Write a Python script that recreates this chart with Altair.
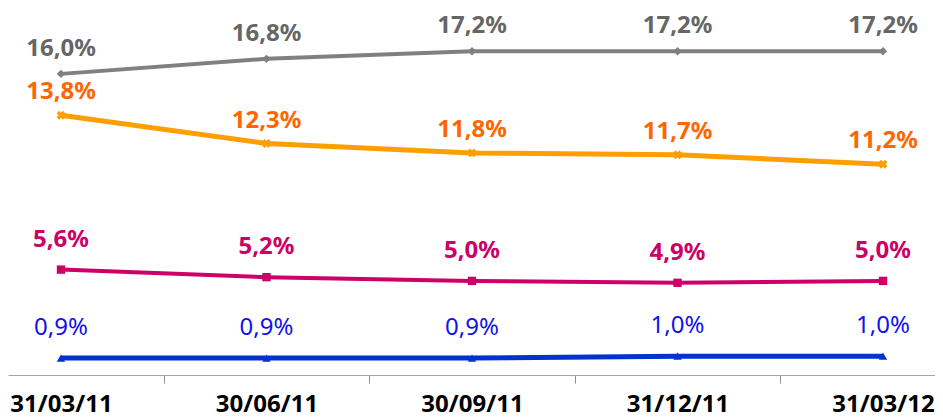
import altair as alt
import pandas as pd

dates = ["31/03/11", "30/06/11", "30/09/11", "31/12/11", "31/03/12"]
grey_vals = [16.0, 16.8, 17.2, 17.2, 17.2]
orange_vals = [13.8, 12.3, 11.8, 11.7, 11.2]
magenta_vals = [5.6, 5.2, 5.0, 4.9, 5.0]
blue_vals = [0.9, 0.9, 0.9, 1.0, 1.0]

series = [
    # values, line colour, label colour, shape, stroke width, label dy, weight, size
    (grey_vals, "#808080", "#666666", "diamond", 4, -25, "bold", 24),
    (orange_vals, "#FF9E00", "#FF6600", "cross", 5, -23, "bold", 24),
    (magenta_vals, "#CC0066", "#CC0066", "square", 4, -30, "bold", 24),
    (blue_vals, "#0033CC", "#1111EE", "triangle-up", 5, -30, "normal", 24),
]

n = len(dates)
label_js = "[" + ",".join(f"'{d}'" for d in dates) + "]"
tick_values = sorted(list(range(n)) + [i + 0.5 for i in range(n - 1)])

x_enc = alt.X(
    "idx:Q",
    scale=alt.Scale(domain=[-0.2579, 4.253], nice=False, zero=False),
    axis=alt.Axis(
        values=tick_values,
        labelExpr=f"datum.value % 1 === 0 ? {label_js}[datum.value] : ''",
        tickSize=8,
        tickColor="#8C8C8C",
        tickOpacity={"condition": {"test": "datum.value % 1 === 0", "value": 0}, "value": 1},
        grid=False,
        title=None,
        domainColor="#A6A6A6",
        domainWidth=1,
        labelFont="Noto Sans",
        labelFontWeight="bold",
        labelFontSize=24,
        labelColor="#000000",
        labelPadding=9,
        labelBound=False,
        labelOverlap=False,
        labelFlush=False,
    ),
)
y_scale = alt.Scale(domain=[0, 19.5], nice=False, zero=True)

layers = []
for vals, lcol, tcol, shape, sw, dy, weight, fsize in series:
    df = pd.DataFrame({
        "idx": list(range(n)),
        "date": dates,
        "value": vals,
        "label": [f"{v:.1f}".replace(".", ",") + "%" for v in vals],
    })
    base = alt.Chart(df).encode(
        x=x_enc,
        y=alt.Y("value:Q", scale=y_scale, axis=None),
    )
    layers.append(base.mark_line(color=lcol, strokeWidth=sw))
    pt_kwargs = dict(shape=shape, filled=True, color=lcol, size=70, opacity=1)
    if shape == "cross":
        pt_kwargs.update(angle=45, size=80)
    layers.append(base.mark_point(**pt_kwargs))
    layers.append(
        base.mark_text(
            dy=dy, color=tcol, font="Noto Sans", fontWeight=weight,
            fontSize=fsize, align="center", baseline="middle",
        ).encode(text="label:N")
    )

chart = (
    alt.layer(*layers)
    .properties(
        width=927,
        height=367,
        autosize=alt.AutoSizeParams(type="none"),
        padding={"left": 0, "top": 0, "right": 0, "bottom": 45},
    )
    .configure_view(stroke=None)
)

chart.save("out.html", embed_options={"renderer": "svg", "actions": False})
